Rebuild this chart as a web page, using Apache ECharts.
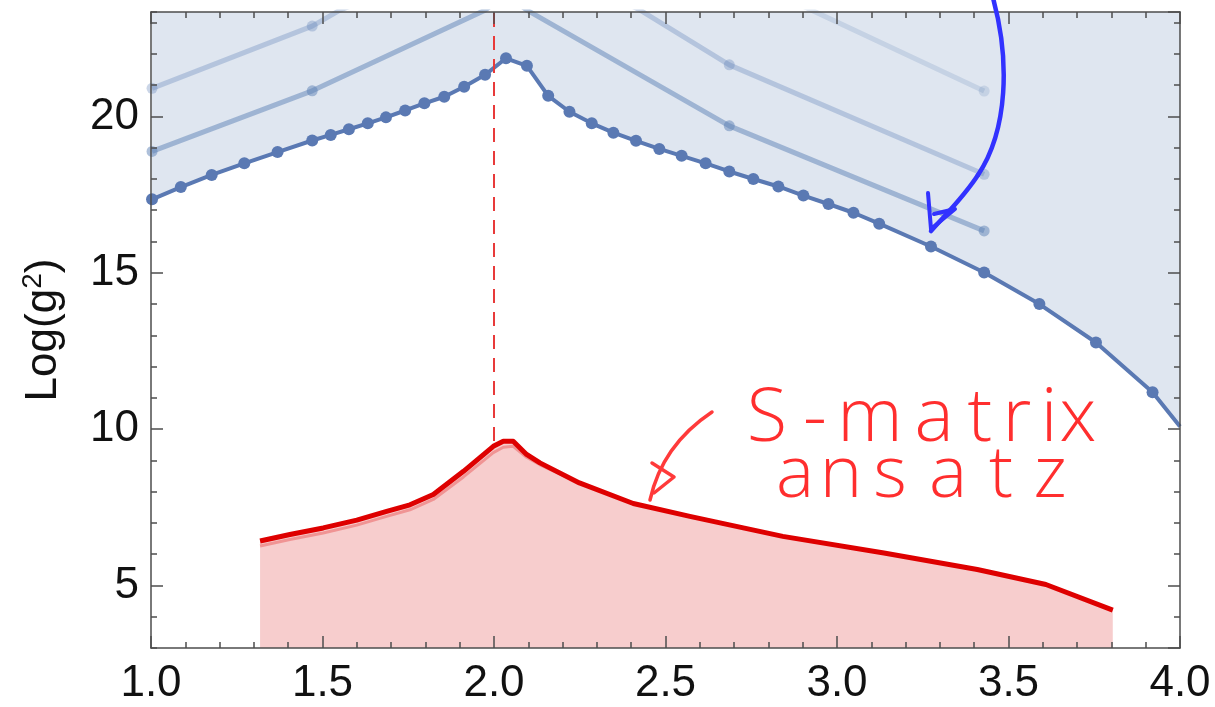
<!DOCTYPE html>
<html><head><meta charset="utf-8">
<script src="https://cdn.jsdelivr.net/npm/echarts@6/dist/echarts.min.js"></script>
<style>html,body{margin:0;padding:0;background:#fff}#c{width:1215px;height:707px}</style>
</head><body><div id="c"></div>
<script>
// ---- data ----
const darkX = [1.003,1.087,1.177,1.272,1.369,1.470,1.524,1.577,1.632,1.685,1.741,1.797,1.855,1.913,1.974,2.035,2.096,2.158,2.220,2.285,2.348,2.414,2.482,2.547,2.617,2.686,2.756,2.829,2.902,2.975,3.048,3.123,3.274,3.429,3.590,3.755,3.920];
const darkY = [17.35,17.74,18.13,18.50,18.86,19.23,19.41,19.59,19.78,19.97,20.19,20.42,20.63,20.95,21.33,21.86,21.62,20.66,20.15,19.78,19.48,19.22,18.96,18.74,18.50,18.24,18.00,17.76,17.47,17.20,16.92,16.57,15.84,15.01,14.00,12.77,11.18];
const darkEdge = [4.0, 10.08];
const faintAX = [1.003,1.470,1.974,2.035,2.096,2.686,3.429];
const faintAY = [18.88,20.82,23.40,23.90,23.40,19.70,16.34];
const faintBX = [1.003,1.470,1.551,2.035,2.426,2.686,3.429];
const faintBY = [20.90,22.89,23.40,25.50,23.40,21.65,18.15];
const faintCX = [2.035,2.686,2.926,3.429];
const faintCY = [28.00,24.60,23.40,20.81];
const redX = [1.318,1.405,1.502,1.600,1.687,1.755,1.823,1.911,1.998,2.027,2.056,2.095,2.134,2.249,2.406,2.571,2.842,3.137,3.409,3.609,3.804];
const redY = [6.42,6.63,6.84,7.09,7.37,7.58,7.91,8.65,9.45,9.61,9.61,9.19,8.92,8.28,7.62,7.21,6.57,6.04,5.51,5.03,4.21];
const redLightY = [6.26,6.47,6.68,6.93,7.21,7.42,7.75,8.47,9.25,9.42,9.45,9.10,8.86,8.28,7.62,7.21,6.57,6.04,5.51,5.03,4.21];
const xTickLabels = ['1.0','1.5','2.0','2.5','3.0','3.5','4.0'];
const yTickLabels = ['5','10','15','20'];
const thresholdX = 2.0;

const zip = (xs, ys) => xs.map((x, i) => [x, ys[i]]);
const darkData = zip(darkX, darkY);
const darkFull = darkData.concat([{ value: darkEdge, symbol: 'none' }]);

const FONT = '"Liberation Sans", Arial, sans-serif';
const frame = '#4d4d4d';
const blue = '#5a79b3';
const X0 = 1, X1 = 4, Y0 = 3, Y1 = 23.34;

function xAx(pos, labels) {
  return {
    type: 'value', position: pos, min: X0, max: X1, interval: 0.5, z: 10,
    axisLine: { show: true, onZero: false, lineStyle: { color: frame, width: 1.5 } },
    axisTick: { show: true, inside: true, length: 12, lineStyle: { color: frame, width: 1.5 } },
    minorTick: { show: true, splitNumber: 5, length: 6, lineStyle: { color: frame, width: 1.5 } },
    splitLine: { show: false }, minorSplitLine: { show: false },
    axisLabel: labels ? {
      show: true, margin: 14, fontSize: 44, fontFamily: FONT, color: '#111',
      formatter: v => { const s = v.toFixed(1); return xTickLabels.includes(s) ? s : ''; }
    } : { show: false }
  };
}
function yMajor(pos, labels) {
  return {
    type: 'value', position: pos, min: Y0, max: Y1, splitNumber: 4, z: 10,
    axisLine: { show: true, onZero: false, lineStyle: { color: frame, width: 1.5 } },
    axisTick: { show: true, inside: true, length: 12, lineStyle: { color: frame, width: 1.5 } },
    splitLine: { show: false },
    name: labels ? 'Log(g{sup|2})' : '', nameLocation: 'middle', nameGap: 82, nameRotate: 90,
    nameTextStyle: { fontSize: 44, fontFamily: FONT, color: '#111',
      rich: { sup: { fontSize: 28, fontFamily: FONT, color: '#111', padding: [0, 0, 22, 0] } } },
    axisLabel: labels ? {
      show: true, margin: 12, fontSize: 44, fontFamily: FONT, color: '#111',
      showMinLabel: false, showMaxLabel: false,
      formatter: v => { const s = String(Math.round(v * 100) / 100); return yTickLabels.includes(s) ? s : ''; }
    } : { show: false }
  };
}
function yMinor(pos) {
  return {
    type: 'value', position: pos, min: Y0, max: Y1, interval: 1, z: 10,
    axisLine: { show: false, onZero: false },
    axisTick: { show: true, inside: true, length: 6, lineStyle: { color: frame, width: 1.5 } },
    splitLine: { show: false }, axisLabel: { show: false }
  };
}

const faint = (data, a) => ({
  type: 'line', data, xAxisIndex: 0, yAxisIndex: 0, z: 3, clip: true,
  symbol: 'circle', symbolSize: 11, showSymbol: true,
  lineStyle: { color: `rgba(94,129,181,${a})`, width: 5 },
  itemStyle: { color: `rgba(94,129,181,${a})` }, emphasis: { disabled: true }
});

const sMatrix = [['S',767],['-',815],['m',870],['a',934],['t',980],['r',1017],['i',1049],['x',1078]];
const ansatz = [['a',795],['n',841],['s',890],['a',948],['t',1001],['z',1050]];
const hand = (arr, y, size) => arr.map(([ch, x]) => ({
  type: 'text', x, y, z: 100,
  style: { text: ch, fontSize: size, fontFamily: '"Open Sans", "DejaVu Sans", sans-serif', fontWeight: 300,
    fill: '#ff2e2e', align: 'center', verticalAlign: 'middle' }
}));
const stroke = (c, w) => ({ fill: 'none', stroke: c, lineWidth: w, lineCap: 'round', lineJoin: 'round' });

const chart = echarts.init(document.getElementById('c'), null, { renderer: 'canvas' });
chart.setOption({
  animation: false,
  backgroundColor: '#fff',
  grid: { left: 151, right: 35, top: 12, bottom: 59, containLabel: false },
  xAxis: [xAx('bottom', true), xAx('top', false)],
  yAxis: [yMajor('left', true), yMinor('left'), yMajor('right', false), yMinor('right')],
  series: [
    { type: 'line', data: darkFull, z: 1, symbol: 'none', clip: true,
      lineStyle: { width: 0, opacity: 0 },
      areaStyle: { origin: 'end', color: '#dfe6f0', opacity: 1 }, emphasis: { disabled: true } },
    faint(zip(faintCX, faintCY), 0.2),
    faint(zip(faintBX, faintBY), 0.33),
    faint(zip(faintAX, faintAY), 0.5),
    { type: 'line', data: darkFull, z: 4, clip: true, symbol: 'circle', symbolSize: 12,
      lineStyle: { color: blue, width: 4 }, itemStyle: { color: blue }, emphasis: { disabled: true } },
    { type: 'line', data: zip(redX, redY), z: 5, symbol: 'none', clip: true,
      lineStyle: { width: 0, opacity: 0 },
      areaStyle: { origin: 'start', color: '#f7cdcd', opacity: 1 }, emphasis: { disabled: true } },
    { type: 'line', data: zip(redX, redLightY), z: 6, symbol: 'none', clip: true,
      lineStyle: { color: '#f09494', width: 3 }, emphasis: { disabled: true } },
    { type: 'line', data: zip(redX, redY), z: 7, symbol: 'none', clip: true,
      lineStyle: { color: '#de0000', width: 5, join: 'round' }, emphasis: { disabled: true },
      markLine: { silent: true, symbol: 'none', label: { show: false },
        lineStyle: { color: '#e83a3a', width: 2, type: [14, 9] },
        data: [{ xAxis: thresholdX }] } }
  ],
  graphic: [
    { type: 'bezierCurve', z: 100, shape: { x1: 993, y1: -2, cpx1: 1010, cpy1: 60, cpx2: 1008, cpy2: 130, x2: 978, y2: 175 }, style: stroke('#3232ff', 4.5) },
    { type: 'bezierCurve', z: 100, shape: { x1: 978, y1: 175, cpx1: 963, cpy1: 198, cpx2: 946, cpy2: 214, x2: 931, y2: 231 }, style: stroke('#3232ff', 4.5) },
    { type: 'polyline', z: 100, shape: { points: [[928,193],[931,229],[955,209],[934,214]] }, style: stroke('#3232ff', 4) },
    { type: 'bezierCurve', z: 100, shape: { x1: 712, y1: 412, cpx1: 688, cpy1: 428, cpx2: 660, cpy2: 455, x2: 650, y2: 500 }, style: stroke('#ff3a3a', 3.5) },
    { type: 'polyline', z: 100, shape: { points: [[652,463],[674,477],[654,493]] }, style: stroke('#ff3a3a', 3.5) },
    ...hand(sMatrix, 420, 74),
    ...hand(ansatz, 476, 72)
  ]
});
</script>
</body></html>
